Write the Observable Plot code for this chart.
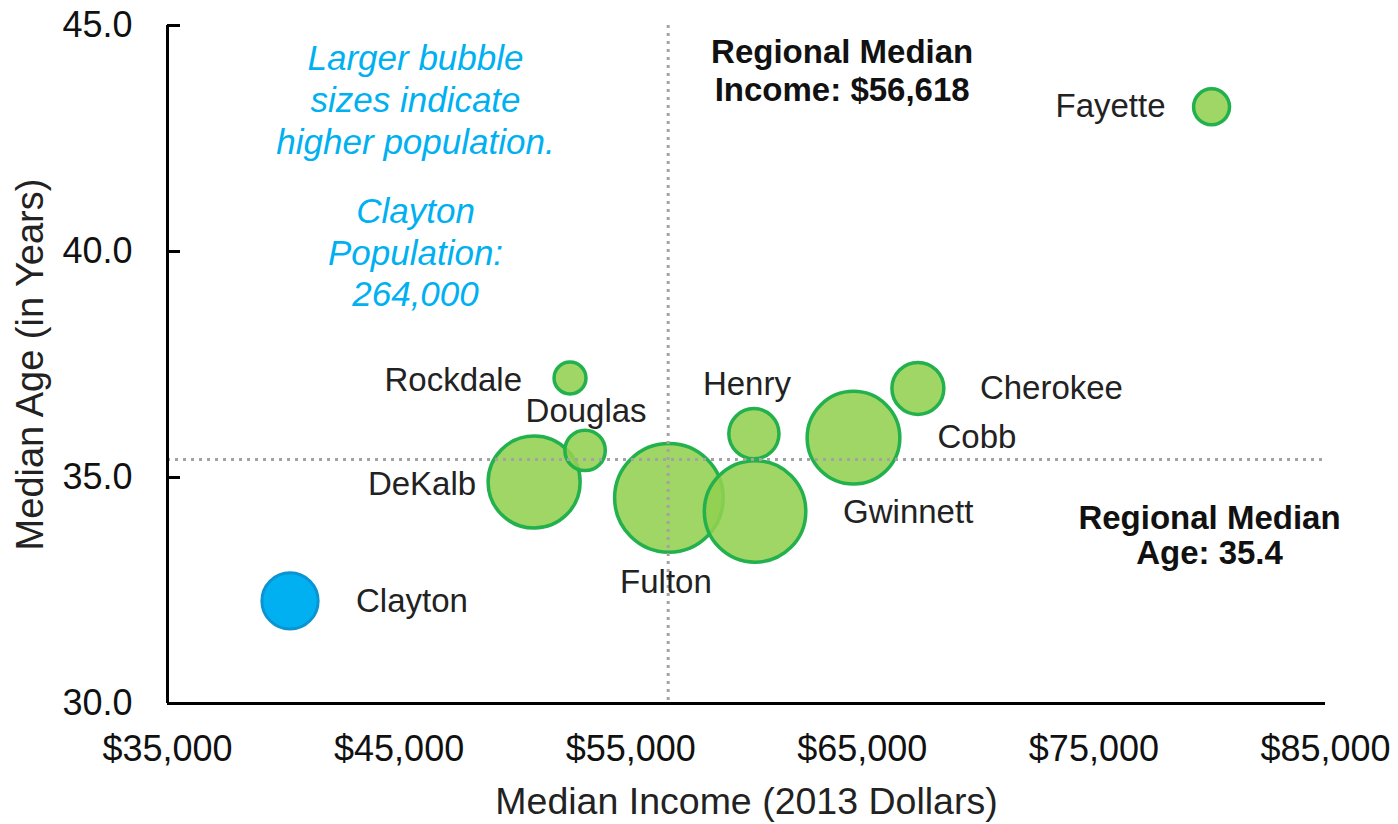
<!DOCTYPE html>
<html>
<head>
<meta charset="utf-8">
<script src="https://cdn.jsdelivr.net/npm/d3@7"></script>
<script src="https://cdn.jsdelivr.net/npm/@observablehq/plot@0.6"></script>
<style>
  html, body { margin: 0; padding: 0; background: #fff; }
  #chart svg { display: block; }
</style>
</head>
<body>
<div id="chart"></div>
<script>
// ---- data ----
const counties   = ["Fayette", "Rockdale", "Douglas", "DeKalb", "Fulton", "Gwinnett", "Henry", "Cobb", "Cherokee", "Clayton"];
const income     = [80080, 52380, 53030, 50830, 56650, 60370, 60320, 64620, 67400, 40290];
const age        = [43.2, 37.2, 35.6, 34.9, 34.55, 34.25, 35.97, 35.88, 36.97, 32.27];
const population = [108000, 85000, 136000, 707000, 984000, 859000, 210000, 717000, 225000, 264000];

const xTicks = [35000, 45000, 55000, 65000, 75000, 85000];
const yTicks = [30, 35, 40, 45];

const medianIncome = 56618;
const medianAge = 35.4;
const highlight = "Clayton";

const xLabel = "Median Income (2013 Dollars)";
const yLabel = "Median Age (in Years)";

// ---- styling / label placement (pixels) ----
const labelStyle = {
  Fayette:  {dx: -46, dy: 0,   anchor: "end"},
  Rockdale: {dx: -48, dy: 2,   anchor: "end"},
  Douglas:  {dx: 1,   dy: -39, anchor: "middle"},
  DeKalb:   {dx: -58, dy: 2,   anchor: "end"},
  Fulton:   {dx: -3,  dy: 85,  anchor: "middle"},
  Gwinnett: {dx: 88,  dy: 1,   anchor: "start"},
  Henry:    {dx: -7,  dy: -49, anchor: "middle"},
  Cobb:     {dx: 84,  dy: 0,   anchor: "start"},
  Cherokee: {dx: 62,  dy: 0,   anchor: "start"},
  Clayton:  {dx: 66,  dy: 1,   anchor: "start"}
};

const W = 1398, H = 824;
const mL = 167, mR = 73, mT = 25, mB = 121;
const plotW = W - mL - mR;
const font = "'Liberation Sans', Arial, Helvetica, sans-serif";
const cyan = "#00b0f0";

const rows = counties.map((name, i) => ({name, income: income[i], age: age[i], pop: population[i]}));
const greenRows = rows.filter(d => d.name !== highlight);
const blueRows = rows.filter(d => d.name === highlight);
const clayton = blueRows[0];

const labelMarks = rows.map(d => {
  const s = labelStyle[d.name];
  return Plot.text([d], {
    x: "income", y: "age", text: "name",
    dx: s.dx, dy: s.dy, textAnchor: s.anchor,
    fontSize: 33, fill: "#222"
  });
});

const chart = Plot.plot({
  width: W, height: H,
  marginLeft: mL, marginRight: mR, marginTop: mT, marginBottom: mB,
  x: {domain: [35000, 85000]},
  y: {domain: [30, 45]},
  r: {type: "sqrt", domain: [0, d3.max(population)], range: [0, 54.3]},
  style: {fontFamily: font, fontSize: "36px", color: "#111", background: "#fff"},
  marks: [
    Plot.axisX({ticks: xTicks, tickFormat: d3.format("$,"), tickSize: 0, tickPadding: 32, fontSize: 36, label: null, fill: "#111"}),
    Plot.axisY({ticks: yTicks, tickFormat: d3.format(".1f"), tickSize: 0, tickPadding: 35, fontSize: 36, label: null, fill: "#111"}),
    Plot.text([xLabel], {frameAnchor: "bottom", lineAnchor: "middle", textAnchor: "middle", dy: 98, fontSize: 37.5, fill: "#222"}),
    Plot.text([yLabel], {frameAnchor: "left", lineAnchor: "middle", textAnchor: "middle", dx: -137, rotate: -90, fontSize: 38, fill: "#222"}),
    Plot.dot(greenRows, {x: "income", y: "age", r: "pop", fill: "#92d050", fillOpacity: 0.88, stroke: "#22b14c", strokeWidth: 3.5}),
    Plot.dot(blueRows, {x: "income", y: "age", r: "pop", fill: "#00b0f0", stroke: "#0a94d2", strokeWidth: 3}),
    Plot.ruleX([medianIncome], {stroke: "#a3a3a3", strokeWidth: 3, strokeDasharray: "3,5"}),
    Plot.ruleY([medianAge], {stroke: "#a3a3a3", strokeWidth: 3, strokeDasharray: "3,5"}),
    Plot.tickY(yTicks, {y: d => d, insetRight: plotW - 13, stroke: "#000", strokeWidth: 3}),
    Plot.ruleX([35000], {stroke: "#000", strokeWidth: 3}),
    Plot.ruleY([30], {stroke: "#000", strokeWidth: 3}),
    ...labelMarks,
    Plot.text(["Larger bubble\nsizes indicate\nhigher population."], {
      frameAnchor: "top-left", lineAnchor: "middle", textAnchor: "middle",
      dx: 248, dy: 73, lineHeight: 1.2,
      fontSize: 35, fontStyle: "italic", fill: cyan
    }),
    Plot.text([`${clayton.name}\nPopulation:\n${d3.format(",")(clayton.pop)}`], {
      frameAnchor: "top-left", lineAnchor: "middle", textAnchor: "middle",
      dx: 248, dy: 226, lineHeight: 1.18,
      fontSize: 35, fontStyle: "italic", fill: cyan
    }),
    Plot.text([`Regional Median\nIncome: ${d3.format("$,")(medianIncome)}`], {
      x: () => medianIncome, frameAnchor: "top", lineAnchor: "middle", textAnchor: "middle",
      dx: 174, dy: 44, lineHeight: 1.15,
      fontSize: 33, fontWeight: "bold", fill: "#111"
    }),
    Plot.text([`Regional Median\nAge: ${medianAge}`], {
      y: () => medianAge, frameAnchor: "right", lineAnchor: "middle", textAnchor: "middle",
      dx: -116, dy: 76, lineHeight: 1.07,
      fontSize: 33, fontWeight: "bold", fill: "#111"
    })
  ]
});
document.getElementById("chart").appendChild(chart);
</script>
</body>
</html>
